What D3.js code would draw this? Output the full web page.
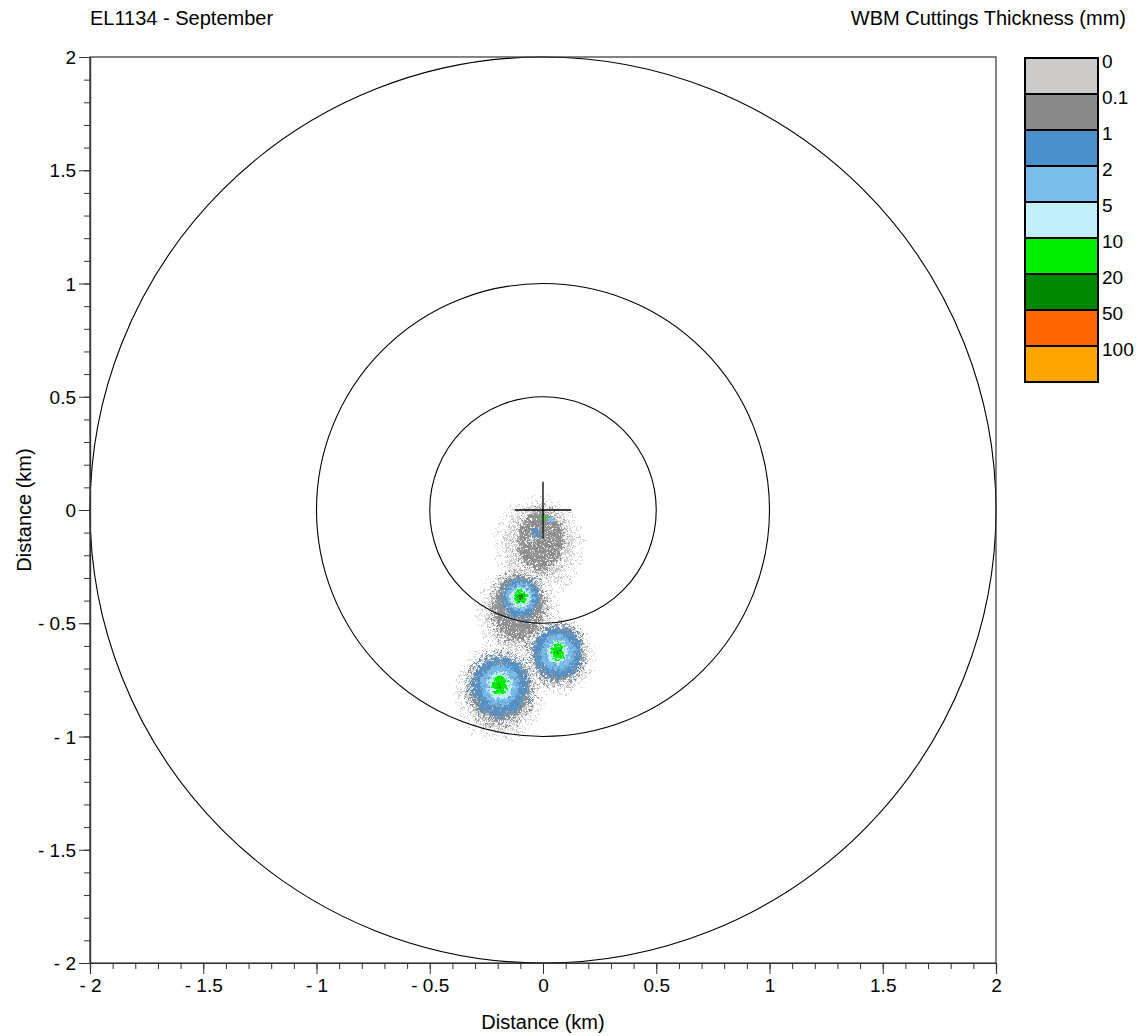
<!DOCTYPE html>
<html><head><meta charset="utf-8">
<script src="https://cdn.jsdelivr.net/npm/d3@7"></script>
<style>body{margin:0;background:#fff}svg{display:block;font-family:"Liberation Sans",Arial,sans-serif}</style>
</head><body><svg id="c" width="1141" height="1036"></svg>
<script>
// ---- data ----
const title = "EL1134 - September";
const legendTitle = "WBM Cuttings Thickness (mm)";
const bandLabels = ["0","0.1","1","2","5","10","20","50","100"];
const bandColors = ["#cdcaca","#8a8a8a","#4b8fcc","#7abdeb","#c3effd","#00ee00","#008800","#ff6600","#ffa500"];
const ringRadii = [0.5, 1, 2];
const tickValues = [-2,-1.5,-1,-0.5,0,0.5,1,1.5,2];
const crossHalf = 0.125;
// deposit footprints per thickness band: [cx, cy, rx, ry] in km (one row per discharge cluster)
const band0 = [[-0.02,-0.16,0.16,0.18],[-0.11,-0.45,0.15,0.17],[0.07,-0.645,0.13,0.14],[-0.19,-0.80,0.16,0.18]];
const band01 = [[-0.01,-0.135,0.10,0.13],[-0.11,-0.43,0.11,0.14],[0.065,-0.635,0.11,0.12],[-0.19,-0.79,0.13,0.14]];
const band1 = [[-0.03,-0.10,0.02,0.02],[-0.10,-0.39,0.08,0.085],[0.065,-0.63,0.105,0.11],[-0.19,-0.78,0.12,0.13]];
const band2 = [[0.035,-0.045,0.012,0.012],[-0.10,-0.385,0.062,0.062],[0.065,-0.63,0.075,0.08],[-0.19,-0.775,0.085,0.09]];
const band5 = [[-0.055,-0.13,0.01,0.01],[-0.10,-0.385,0.046,0.046],[0.065,-0.628,0.045,0.05],[-0.19,-0.775,0.055,0.06]];
const band10 = [[0.0,-0.035,0.008,0.008],[-0.10,-0.385,0.03,0.03],[0.065,-0.625,0.028,0.038],[-0.19,-0.773,0.032,0.042]];
const band20 = [[-0.10,-0.385,0.012,0.012],[0.065,-0.622,0.008,0.008],[-0.19,-0.773,0.008,0.008]];
const bandLayers = [band0, band01, band1, band2, band5, band10, band20];

// ---- layout ----
const svg = d3.select("#c");
const x = d3.scaleLinear().domain([-2,2]).range([90,996]);
const y = d3.scaleLinear().domain([-2,2]).range([963,57]);
const fmt = d => d < 0 ? "- " + Math.abs(d) : String(d);
const FONT = "Liberation Sans, Arial, sans-serif";

// stipple patterns (render texture only)
const defs = svg.append("defs");
const stipples = [
  [[0,0],[3,1],[5,4],[1,4]],
  [[0,0],[2,1],[4,0],[1,3],[3,3],[5,2],[0,5],[4,5],[2,5],[5,4]],
  [[0,0],[2,1],[4,0],[1,3],[3,3],[5,2],[0,5],[4,5],[2,5],[5,4]],
  [[0,0],[2,0],[4,0],[1,2],[3,2],[5,2],[0,4],[2,4],[4,4],[1,5],[3,5],[5,5]],
  null, null, null
];
const sparse = [[0,0],[4,3]];
bandLayers.forEach((_, i) => {
  const p = defs.append("pattern").attr("id","pat"+i).attr("patternUnits","userSpaceOnUse")
    .attr("width",6).attr("height",6).attr("x", i*2).attr("y", i);
  if (stipples[i]) {
    p.selectAll("rect").data(stipples[i]).join("rect")
      .attr("x",d=>d[0]).attr("y",d=>d[1]).attr("width",1.9).attr("height",1.9).attr("fill",bandColors[i]);
  } else {
    p.append("rect").attr("width",6).attr("height",6).attr("fill",bandColors[i]);
  }
  const s = defs.append("pattern").attr("id","spat"+i).attr("patternUnits","userSpaceOnUse")
    .attr("width",7).attr("height",7).attr("x", i*3).attr("y", i*2);
  s.selectAll("rect").data(sparse).join("rect")
    .attr("x",d=>d[0]).attr("y",d=>d[1]).attr("width",1.9).attr("height",1.9).attr("fill",bandColors[i]);
});
const f = defs.append("filter").attr("id","rough").attr("x","-30%").attr("y","-30%").attr("width","160%").attr("height","160%");
f.append("feTurbulence").attr("type","fractalNoise").attr("baseFrequency",0.35).attr("numOctaves",2).attr("seed",7).attr("result","n");
f.append("feDisplacementMap").attr("in","SourceGraphic").attr("in2","n").attr("scale",12).attr("xChannelSelector","R").attr("yChannelSelector","G");

const kx = Math.abs(x(1)-x(0)), ky = Math.abs(y(1)-y(0));
const cloud = svg.append("g").attr("filter","url(#rough)");
bandLayers.forEach((layer, i) => {
  if (i < 3) {
    cloud.append("g").selectAll("ellipse").data(layer).join("ellipse")
      .attr("cx",d=>x(d[0])).attr("cy",d=>y(d[1]))
      .attr("rx",d=>d[2]*kx*1.25).attr("ry",d=>d[3]*ky*1.25)
      .attr("fill","url(#spat"+i+")");
  }
  cloud.append("g").selectAll("ellipse").data(layer).join("ellipse")
    .attr("cx",d=>x(d[0])).attr("cy",d=>y(d[1]))
    .attr("rx",d=>d[2]*kx).attr("ry",d=>d[3]*ky)
    .attr("fill","url(#pat"+i+")");
});

// rings
svg.append("g").selectAll("circle").data(ringRadii).join("circle")
  .attr("cx",x(0)).attr("cy",y(0)).attr("r",d=>d*kx)
  .attr("fill","none").attr("stroke","#000").attr("stroke-width",1.1);

// cross at rig
svg.append("line").attr("x1",x(-crossHalf)).attr("x2",x(crossHalf)).attr("y1",y(0)).attr("y2",y(0)).attr("stroke","#000").attr("stroke-width",1.3);
svg.append("line").attr("x1",x(0)).attr("x2",x(0)).attr("y1",y(crossHalf)).attr("y2",y(-crossHalf)).attr("stroke","#000").attr("stroke-width",1.3);

// frame
svg.append("rect").attr("x",x(-2)).attr("y",y(2)).attr("width",x(2)-x(-2)).attr("height",y(-2)-y(2))
  .attr("fill","none").attr("stroke","#333").attr("stroke-width",1.2);

// axes
const minor = d3.range(-20,21).map(d=>d/10);
const xa = svg.append("g").attr("transform",`translate(0,${y(-2)})`);
xa.call(d3.axisBottom(x).tickValues(minor).tickSize(6).tickFormat(""));
const xa2 = svg.append("g").attr("transform",`translate(0,${y(-2)})`);
xa2.call(d3.axisBottom(x).tickValues(tickValues).tickSize(11).tickPadding(5).tickFormat(fmt));
const ya = svg.append("g").attr("transform",`translate(${x(-2)},0)`);
ya.call(d3.axisLeft(y).tickValues(minor).tickSize(6).tickFormat(""));
const ya2 = svg.append("g").attr("transform",`translate(${x(-2)},0)`);
ya2.call(d3.axisLeft(y).tickValues(tickValues).tickSize(11).tickPadding(3).tickFormat(fmt));
svg.selectAll(".domain").attr("stroke","#333").attr("stroke-width",1.2);
svg.selectAll(".tick line").attr("stroke","#333");
svg.selectAll(".tick text").attr("font-size",19).attr("font-family",FONT).attr("fill","#000");
ya2.selectAll(".tick text").attr("dy","0.35em");

// titles
svg.append("text").attr("x",90).attr("y",25).attr("font-size",20).text(title);
svg.append("text").attr("x",1126).attr("y",25).attr("font-size",20).attr("text-anchor","end").text(legendTitle);
svg.append("text").attr("x",x(0)).attr("y",1029).attr("font-size",20).attr("text-anchor","middle").text("Distance (km)");
svg.append("text").attr("transform",`translate(31,${y(0)}) rotate(-90)`).attr("font-size",20).attr("text-anchor","middle").text("Distance (km)");

// legend
const lg = d3.scaleBand().domain(bandLabels).range([58,382]).padding(0);
const leg = svg.append("g");
leg.selectAll("rect").data(bandLabels).join("rect")
  .attr("x",1025).attr("y",d=>lg(d)).attr("width",73).attr("height",lg.bandwidth())
  .attr("fill",(d,i)=>bandColors[i]).attr("stroke","#000").attr("stroke-width",2);
leg.selectAll("text").data(bandLabels).join("text")
  .attr("x",1102).attr("y",d=>lg(d)+10).attr("font-size",19).text(d=>d);
</script></body></html>
